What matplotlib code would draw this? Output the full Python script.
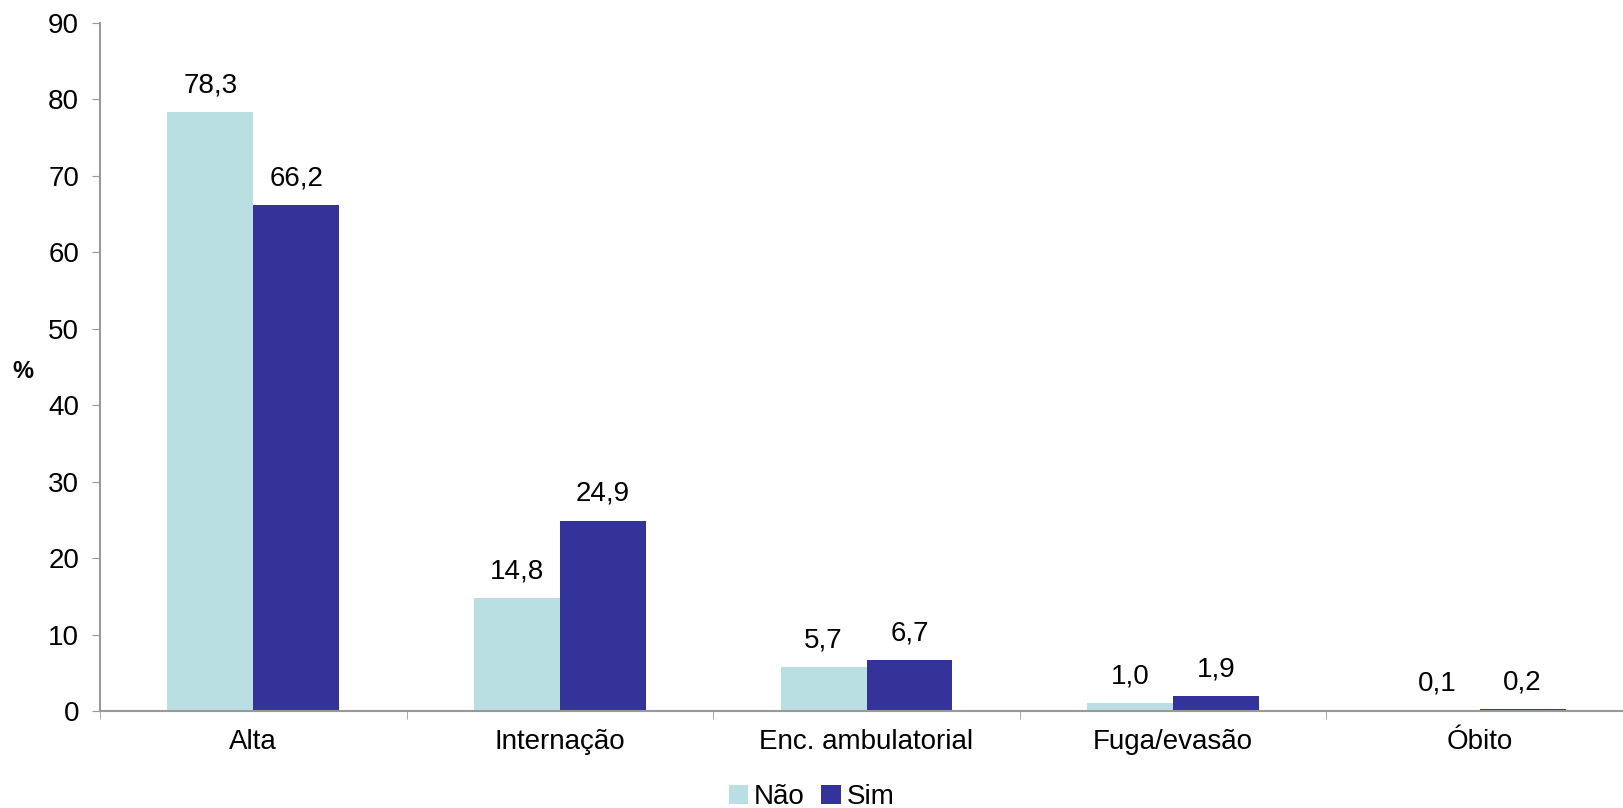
import matplotlib
matplotlib.use('Agg')
import matplotlib.pyplot as plt
import numpy as np

plt.rcParams['font.family'] = ['Liberation Sans', 'DejaVu Sans']

categorias = ['Alta', 'Internação', 'Enc. ambulatorial', 'Fuga/evasão', 'Óbito']
nao = [78.3, 14.8, 5.7, 1.0, 0.1]
sim = [66.2, 24.9, 6.7, 1.9, 0.2]
series = ['Não', 'Sim']
cores = ['#B9DFE2', '#333399']

fig = plt.figure(figsize=(16.23, 8.08), dpi=100)
ax = fig.add_axes([100/1623, 1 - 711/808, 1533/1623, (711-23)/808])

x = np.arange(len(categorias))
w = 0.28
b1 = ax.bar(x - w/2, nao, w, color=cores[0], label=series[0])
b2 = ax.bar(x + w/2, sim, w, color=cores[1], label=series[1])

for bars, vals in [(b1, nao), (b2, sim)]:
    for r, v in zip(bars, vals):
        ax.text(r.get_x() + r.get_width()/2, v + 1.8, f'{v:.1f}'.replace('.', ','),
                ha='center', va='bottom', fontsize=20)

ax.set_xlim(-0.5, len(categorias) - 0.5)
ax.set_ylim(0, 90)
ax.set_yticks(np.arange(0, 91, 10))
ax.set_xticks(x)
ax.set_xticklabels(categorias)
ax.set_xticks(np.arange(-0.5, len(categorias), 1), minor=True)
ax.tick_params(axis='x', which='major', length=0, pad=13, labelsize=20)
ax.tick_params(axis='x', which='minor', length=6, color='#999999', direction='out')
ax.tick_params(axis='y', length=6, color='#999999', labelsize=20, pad=9)

for s in ['top', 'right']:
    ax.spines[s].set_visible(False)
for s in ['left', 'bottom']:
    ax.spines[s].set_color('#999999')
    ax.spines[s].set_linewidth(1.5)

fig.text(23/1623, 1 - 372/808, '%', fontsize=17, fontweight='bold', ha='center', va='center')

fig.legend(loc='center', bbox_to_anchor=(0.5, 0.013), ncol=2, frameon=False,
           fontsize=20, handlelength=0.7, handleheight=0.7, handletextpad=0.2,
           columnspacing=0.6, borderpad=0)

fig.savefig('out.png', dpi=100)
